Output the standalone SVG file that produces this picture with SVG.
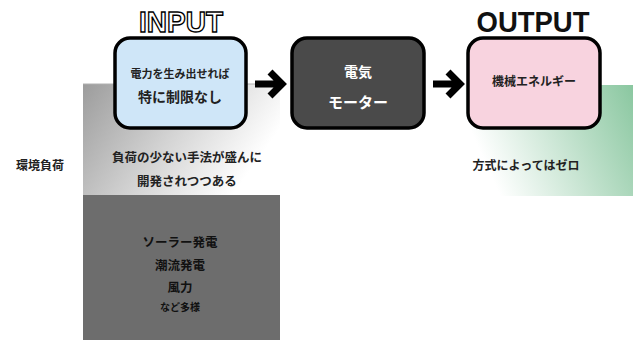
<svg xmlns="http://www.w3.org/2000/svg" width="638" height="340" viewBox="0 0 638 340">
<defs>
<linearGradient id="gGray" x1="0" y1="0" x2="1" y2="0.4">
<stop offset="0" stop-color="#9c9c9c"/>
<stop offset="0.55" stop-color="#d4d4d4"/>
<stop offset="1" stop-color="#ffffff"/>
</linearGradient>
<linearGradient id="gGreen" x1="0" y1="0.3" x2="1" y2="0">
<stop offset="0" stop-color="#ffffff"/>
<stop offset="1" stop-color="#8ac7a0"/>
</linearGradient>
<style>
.jp{font-family:"Noto Sans CJK JP","Noto Sans",sans-serif;font-weight:bold;text-anchor:middle}
.box{stroke:#000;stroke-width:3.5}
.arrow{fill:none;stroke:#000;stroke-width:7}
</style>
</defs>
<g id="background">
<rect x="83" y="84" width="197" height="111" fill="url(#gGray)"/>
<line x1="83" y1="84" x2="280" y2="84" stroke="#b0b0b0" stroke-width="1"/>
<rect x="83" y="195" width="197" height="145" fill="#6d6d6d"/>
<rect x="465" y="85" width="168" height="111" fill="url(#gGreen)"/>
</g>
<g id="titles">
<text x="181" y="32" font-family="Liberation Sans, Arial, sans-serif" font-size="30" font-weight="bold" fill="#fff" stroke="#000" stroke-width="1.4" text-anchor="middle" textLength="84" lengthAdjust="spacingAndGlyphs">INPUT</text>
<text x="533" y="32" font-family="Liberation Sans, Arial, sans-serif" font-size="30" font-weight="bold" fill="#111" text-anchor="middle" textLength="113" lengthAdjust="spacingAndGlyphs">OUTPUT</text>
</g>
<g id="connectors">
<path class="arrow" d="M255 84 H281 M270 72 L282 84 L270 96"/>
<path class="arrow" d="M433 84 H459 M448 72 L460 84 L448 96"/>
</g>
<g id="node-input">
<rect class="box" x="115" y="38" width="131" height="90" rx="15" fill="#cfe6f8"/>
<text class="jp" x="180" y="78" font-size="11" fill="#222">電力を生み出せれば</text>
<text class="jp" x="180" y="102" font-size="14" fill="#222">特に制限なし</text>
</g>
<g id="node-motor">
<rect class="box" x="292" y="38" width="132" height="90" rx="15" fill="#4a4a4a"/>
<text class="jp" x="358" y="77" font-size="14" fill="#fff">電気</text>
<text class="jp" x="358" y="108" font-size="15" fill="#fff">モーター</text>
</g>
<g id="node-output">
<rect class="box" x="468" y="38" width="132" height="90" rx="15" fill="#f8d3df"/>
<text class="jp" x="534" y="86" font-size="12" fill="#222">機械エネルギー</text>
</g>
<g id="labels">
<text class="jp" x="40" y="170" font-size="12" fill="#222">環境負荷</text>
<text class="jp" x="187" y="162" font-size="12.5" fill="#222">負荷の少ない手法が盛んに</text>
<text class="jp" x="187" y="186" font-size="12.5" fill="#222">開発されつつある</text>
<text class="jp" x="526" y="170" font-size="12" fill="#222">方式によってはゼロ</text>
<text class="jp" x="180" y="247" font-size="12.5" fill="#111">ソーラー発電</text>
<text class="jp" x="180" y="270" font-size="12.5" fill="#111">潮流発電</text>
<text class="jp" x="180" y="292" font-size="12.5" fill="#111">風力</text>
<text class="jp" x="180" y="311" font-size="10" fill="#111">など多様</text>
</g>
</svg>
